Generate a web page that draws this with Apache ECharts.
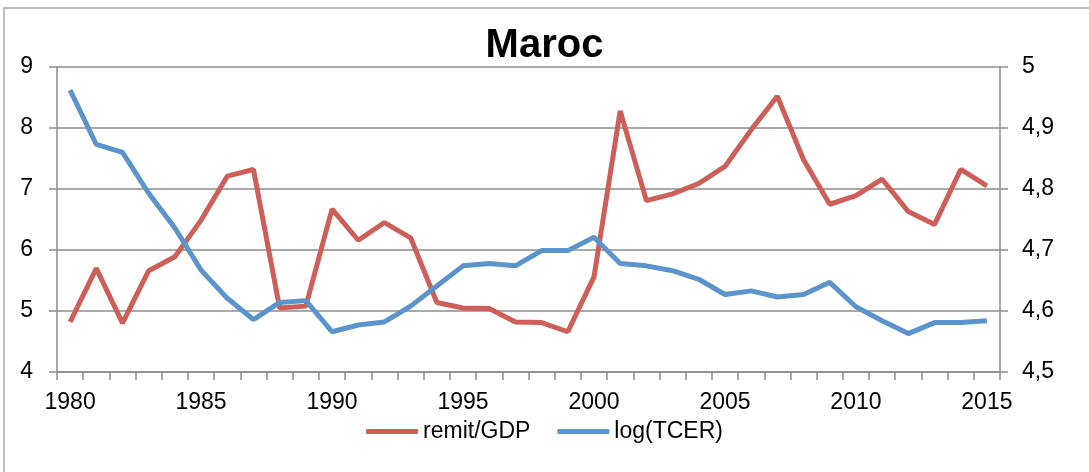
<!DOCTYPE html>
<html>
<head>
<meta charset="utf-8">
<script src="https://cdn.jsdelivr.net/npm/echarts@6/dist/echarts.min.js"></script>
<style>
  html, body { margin: 0; padding: 0; background: #fff; }
  #chart { width: 1089px; height: 472px; }
</style>
</head>
<body>
<div id="chart"></div>
<script>
// data
var years = [];
for (var y = 1980; y <= 2015; y++) years.push(String(y));

var remitGdp = [
  4.82, 5.70, 4.80, 5.66, 5.89, 6.49, 7.21, 7.32, 5.05, 5.08,
  6.67, 6.16, 6.45, 6.20, 5.14, 5.05, 5.04, 4.82, 4.81, 4.66,
  5.56, 8.28, 6.81, 6.92, 7.09, 7.37, 7.97, 8.52, 7.48, 6.75,
  6.89, 7.16, 6.63, 6.42, 7.32, 7.05
];

var logTcer = [
  4.962, 4.873, 4.860, 4.793, 4.736, 4.667, 4.621, 4.586, 4.614, 4.617,
  4.566, 4.577, 4.582, 4.608, 4.641, 4.674, 4.678, 4.674, 4.699, 4.699,
  4.721, 4.678, 4.674, 4.666, 4.652, 4.627, 4.633, 4.623, 4.627, 4.647,
  4.607, 4.584, 4.563, 4.581, 4.581, 4.584
];

var RED = "#cd5f58";
var BLUE = "#5b94cc";
var GRID = "#8c8c8c";
var FONT = "Liberation Sans";

var chart = echarts.init(document.getElementById("chart"));

var option = {
  backgroundColor: "#fff",
  animation: false,
  textStyle: { fontFamily: FONT },
  graphic: [
    {
      type: "rect",
      shape: { x: 4, y: 8, width: 1200, height: 600 },
      style: { fill: "none", stroke: "#a6a6a6", lineWidth: 1.5 },
      silent: true,
      z: -1
    }
  ],
  title: {
    text: "Maroc",
    left: "center",
    top: 21,
    textStyle: { fontFamily: FONT, fontSize: 40, fontWeight: "bold", color: "#000" }
  },
  legend: {
    bottom: 24,
    left: "center",
    itemWidth: 52,
    itemHeight: 5,
    itemGap: 27,
    icon: "roundRect",
    textStyle: { fontFamily: FONT, fontSize: 23, color: "#000" },
    data: ["remit/GDP", "log(TCER)"]
  },
  grid: { left: 57, right: 89, top: 67, bottom: 100, containLabel: false },
  xAxis: {
    type: "category",
    data: years,
    boundaryGap: true,
    axisLine: { lineStyle: { color: GRID, width: 1.5 } },
    axisTick: { show: true, interval: 0, length: 8, lineStyle: { color: GRID, width: 1.5 } },
    axisLabel: {
      interval: 0,
      margin: 19,
      fontSize: 23,
      color: "#000",
      formatter: function (v, i) { return i % 5 === 0 ? v : ""; }
    }
  },
  yAxis: [
    {
      type: "value",
      min: 4,
      max: 9,
      interval: 1,
      position: "left",
      axisLine: { show: true, lineStyle: { color: GRID, width: 1.5 } },
      axisTick: { show: true, length: 8, lineStyle: { color: GRID, width: 1.5 } },
      splitLine: { show: true, lineStyle: { color: GRID, width: 1.5 } },
      axisLabel: { margin: 24, fontSize: 23, color: "#000" }
    },
    {
      type: "value",
      min: 4.5,
      max: 5,
      interval: 0.1,
      position: "right",
      axisLine: { show: true, lineStyle: { color: GRID, width: 1.5 } },
      axisTick: { show: true, length: 8, lineStyle: { color: GRID, width: 1.5 } },
      splitLine: { show: false },
      axisLabel: {
        margin: 22,
        fontSize: 23,
        color: "#000",
        formatter: function (v) {
          return String(Math.round(v * 10) / 10).replace(".", ",");
        }
      }
    }
  ],
  series: [
    {
      name: "remit/GDP",
      type: "line",
      yAxisIndex: 0,
      data: remitGdp,
      symbol: "none",
      lineStyle: { color: RED, width: 5 },
      itemStyle: { color: RED }
    },
    {
      name: "log(TCER)",
      type: "line",
      yAxisIndex: 1,
      data: logTcer,
      symbol: "none",
      lineStyle: { color: BLUE, width: 5 },
      itemStyle: { color: BLUE }
    }
  ]
};

chart.setOption(option);
</script>
</body>
</html>
